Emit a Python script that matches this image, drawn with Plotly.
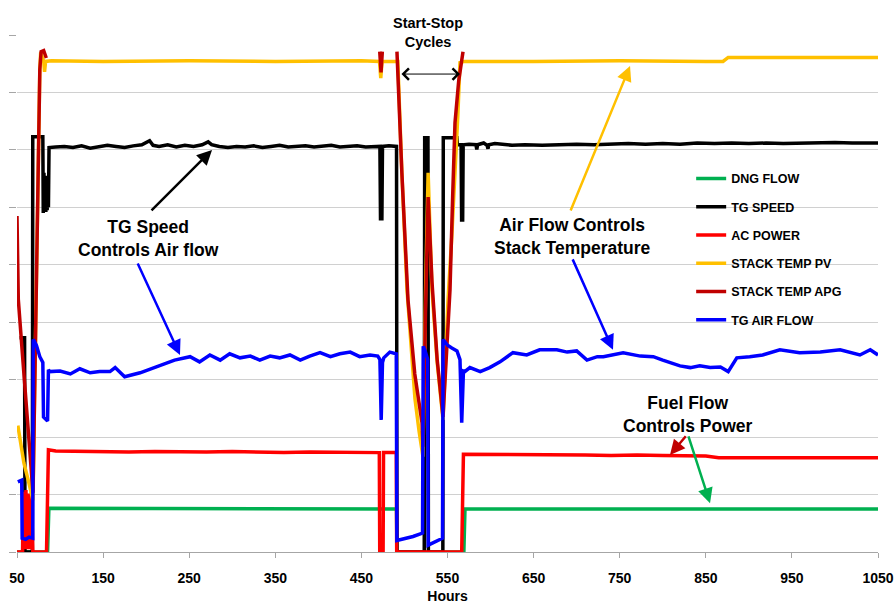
import plotly.graph_objects as go

# ---- data: (hours, value) pairs per signal ----
dng_flow = [(50, 0), (85.5, 0), (87.0, 7.6), (150, 7.6), (250, 7.5), (350, 7.5), (450, 7.5),
            (490.8, 7.5), (491.3, 0), (569.0, 0), (570.3, 7.5), (650, 7.5), (750, 7.5),
            (850, 7.5), (950, 7.5), (1050, 7.5)]

tg_speed = [(53.0, 37.3), (58.8, 37.3), (59.3, 0), (67.8, 0), (68.3, 72.3), (80.0, 72.3),
            (80.5, 59.0), (81.3, 66.0), (82.0, 59.5), (82.8, 65.5), (83.5, 59.2), (84.3, 64.0),
            (85.0, 59.5), (85.8, 62.0), (86.5, 60.0), (87.2, 70.4), (95, 70.5), (105, 70.6),
            (115, 70.4), (125, 70.7), (135, 70.3), (145, 70.5), (155, 70.8), (165, 70.6),
            (175, 70.4), (185, 70.7), (195, 70.9), (204, 71.6), (208, 70.8), (215, 70.6),
            (225, 70.9), (235, 70.5), (245, 70.8), (255, 70.6), (265, 70.9), (272, 71.4),
            (276, 70.9), (285, 70.6), (295, 70.4), (305, 70.6), (315, 70.5), (325, 70.7),
            (335, 70.4), (345, 70.6), (355, 70.8), (365, 70.5), (375, 70.6), (385, 70.7),
            (395, 70.5), (405, 70.6), (415, 70.8), (425, 70.5), (435, 70.6), (445, 70.7),
            (455, 70.5), (465, 70.6), (471.5, 70.6), (472.2, 58.0), (473.8, 58.0), (474.5, 70.6),
            (482, 70.7), (490.8, 70.6), (491.3, 0), (523.0, 0), (523.5, 72.1), (527.3, 72.1),
            (527.8, 0), (544.6, 0), (545.1, 72.1), (561.0, 72.1), (561.5, 70.9), (565.8, 70.9),
            (566.4, 57.8), (567.6, 57.8), (568.2, 70.9), (575, 71.0), (583, 70.9), (584, 70.1),
            (585, 70.9), (592, 71.2), (596, 70.8), (597, 70.2), (598, 70.9), (605, 71.1),
            (615, 70.9), (625, 70.8), (640, 70.9), (660, 70.8), (680, 70.9), (700, 71.0),
            (720, 70.9), (740, 71.0), (760, 71.1), (780, 71.0), (800, 71.1), (820, 71.0),
            (840, 71.2), (860, 71.1), (880, 71.2), (900, 71.1), (920, 71.2), (940, 71.1),
            (960, 71.2), (980, 71.2), (1000, 71.3), (1020, 71.2), (1040, 71.3), (1050, 71.2)]

ac_power = [(50, 0), (56.5, 0), (57.3, 10.5), (58.0, 1.0), (58.8, 9.5), (59.6, 0.5), (60.4, 10.8),
            (61.2, 1.5), (62.0, 9.0), (62.8, 0.5), (63.6, 10.2), (64.4, 2.0), (65.2, 9.8),
            (66.0, 0.5), (66.8, 10.5), (67.6, 1.0), (68.4, 0), (84.3, 0), (86.5, 17.8),
            (95, 17.6), (120, 17.5), (150, 17.5), (180, 17.4), (210, 17.5), (240, 17.4),
            (270, 17.4), (300, 17.5), (330, 17.4), (360, 17.3), (390, 17.4), (420, 17.4),
            (450, 17.3), (470.8, 17.3), (471.3, 0), (475.2, 0), (475.7, 17.3), (490.5, 17.3),
            (491.0, 0), (566.5, 0), (568.5, 17.0), (590, 17.0), (620, 16.9), (650, 16.9),
            (680, 17.0), (710, 16.9), (740, 16.8), (770, 16.9), (800, 16.8), (830, 16.8),
            (850, 16.7), (865, 16.4), (880, 16.4), (910, 16.5), (940, 16.4), (970, 16.4),
            (1000, 16.5), (1030, 16.4), (1050, 16.4)]

stack_temp_pv = [(51.0, 22.0), (53.5, 19.5), (58, 15.5), (63, 12.5), (68.6, 9.0), (70.5, 28),
                 (72.5, 48), (74.5, 68), (76.5, 84), (77.5, 87.0), (79.0, 86.2), (81.0, 85.4),
                 (82.0, 83.6), (83.2, 85.4), (90, 85.5), (150, 85.4), (250, 85.5), (350, 85.4),
                 (450, 85.5), (471.0, 85.4), (472.5, 82.5), (474.0, 85.4), (492.3, 85.4),
                 (497, 66), (503, 45.6), (508, 35), (512.2, 26.7), (517, 21), (521.5, 16.6),
                 (524.5, 45), (527.5, 66.0), (532, 45.6), (538, 33), (544.8, 23.0), (550.6, 43.9),
                 (555, 55), (558.7, 64.8), (562, 76), (564.5, 85.2), (570, 85.4), (650, 85.4),
                 (750, 85.5), (850, 85.4), (870, 85.4), (876, 86.1), (950, 86.1), (1050, 86.1)]

stack_temp_apg = [(50.0, 58.5), (50.6, 47), (51.5, 44), (56, 35), (61, 25), (65, 17), (68.6, 10.3),
                  (70.5, 28), (72.5, 50), (74.5, 70), (76.5, 84), (78.0, 87.1), (81.0, 87.3),
                  (84.0, 86.0), (84.5, None), (471.3, 87.1), (472.8, 83.5), (474.3, 87.1),
                  (474.8, None), (491.3, 87.1), (497, 66), (504.1, 43.9), (512, 31), (520.4, 22.5),
                  (521.5, 18.3), (524.5, 42), (527.5, 61.8), (532, 47), (538, 33.5), (544.8, 23.5),
                  (552.9, 45.6), (556, 62), (558.7, 74.7), (563, 82), (568, 87.1), (568.5, None)]

tg_air_flow = [(51.0, 12.2), (55.5, 12.5), (56.0, 2.4), (60, 2.2), (64, 2.6), (68.3, 2.4),
               (68.8, 37.0), (72.5, 36.0), (76.5, 34.0), (80.0, 33.0), (80.8, 23.5), (85.5, 22.8),
               (86.5, 31.7), (88, 31.4), (100, 31.5), (112, 31.0), (123, 31.9), (135, 31.2),
               (146, 31.4), (158, 31.4), (164, 32.1), (175, 30.5), (193, 31.2), (216, 32.4),
               (233, 33.4), (251, 34.0), (262, 33.1), (274, 34.3), (286, 33.4), (297, 34.5),
               (309, 33.8), (321, 34.1), (332, 33.4), (344, 34.1), (355, 33.8), (367, 34.3),
               (379, 33.4), (390, 34.1), (402, 34.7), (414, 34.0), (425, 34.5), (437, 34.8),
               (448, 34.0), (460, 34.3), (469, 34.1), (471.5, 33.5), (473, 23.0), (474.5, 33.0),
               (476, 33.8), (483, 34.8), (488, 34.5), (490.5, 34.5), (491.2, 2.0), (500, 2.3),
               (510, 2.7), (521.0, 3.3), (521.8, 35.8), (524, 35.0), (527, 33.5), (527.6, 1.2),
               (535, 1.8), (544.2, 2.4), (544.9, 37.0), (550, 36.0), (555, 35.5), (561, 35.0),
               (564.5, 33.5), (566.5, 22.5), (568.5, 31.5), (570, 31.4), (576, 32.1), (582, 31.7),
               (588, 31.4), (599, 32.1), (611, 33.1), (626, 34.7), (642, 34.3), (657, 35.2),
               (677, 35.2), (689, 34.8), (700, 35.0), (712, 33.4), (724, 34.0), (731, 34.0),
               (742, 34.3), (754, 34.7), (774, 34.1), (789, 34.0), (800, 33.4), (820, 32.4),
               (832, 32.1), (843, 32.4), (855, 32.1), (867, 32.2), (876, 31.4), (886, 33.8),
               (901, 34.0), (916, 34.3), (936, 35.2), (959, 34.7), (983, 34.8), (1006, 35.2),
               (1029, 34.3), (1041, 35.2), (1050, 34.3)]

x_ticks = [50, 150, 250, 350, 450, 550, 650, 750, 850, 950, 1050]

series = [
    ("DNG FLOW", dng_flow, "#00B050"),
    ("TG SPEED", tg_speed, "#000000"),
    ("AC POWER", ac_power, "#FF0000"),
    ("STACK TEMP PV", stack_temp_pv, "#FFC000"),
    ("STACK TEMP APG", stack_temp_apg, "#C00000"),
    ("TG AIR FLOW", tg_air_flow, "#0000FF"),
]

fig = go.Figure()
for name, pts, color in series:
    fig.add_trace(go.Scatter(
        x=[p[0] for p in pts], y=[p[1] for p in pts], name=name, mode="lines",
        line=dict(color=color, width=3.5), connectgaps=False, legendgroup=name,
    ))

FONT = "Arial, Liberation Sans, sans-serif"

# callout texts (data coordinates)
notes = [
    ("<b>TG Speed<br>Controls Air flow</b>", 203.3, 54.6),
    ("<b>Air Flow Controls<br>Stack Temperature</b>", 694.6, 55.0),
    ("<b>Fuel Flow<br>Controls Power</b>", 829.3, 24.0),
]
for txt, hx, vy in notes:
    fig.add_annotation(x=hx, y=vy, xref="x", yref="y", text=txt, showarrow=False,
                       font=dict(family=FONT, size=17.5, color="#000000"), align="center")

# heading over the start-stop span sits above the plot area
fig.add_annotation(x=527.4, y=1.004, xref="x", yref="paper", yanchor="middle",
                   text="<b>Start-Stop<br>Cycles</b>", showarrow=False,
                   font=dict(family=FONT, size=14.5, color="#000000"), align="center")

# callout arrows: (tail_h, tail_v, head_h, head_v, colour)
arrows = [
    (204.5, 59.2, 276.5, 70.0, "#000000"),
    (189.4, 50.5, 239.3, 34.3, "#0000FF"),
    (692.3, 59.2, 762.0, 84.6, "#FFC000"),
    (694.6, 51.2, 742.2, 35.2, "#0000FF"),
    (828.2, 20.4, 808.4, 16.9, "#C00000"),
    (829.3, 20.4, 854.9, 8.5, "#00B050"),
]
for tx, ty, hx, hy, col in arrows:
    fig.add_annotation(x=hx, y=hy, ax=tx, ay=ty, xref="x", yref="y", axref="x", ayref="y",
                       text="", showarrow=True, arrowhead=2, arrowsize=1.2, arrowwidth=2.5,
                       arrowcolor=col, standoff=0, startstandoff=0)

# start-stop span marker
fig.add_annotation(x=564.5, y=83.2, ax=494.8, ay=83.2, xref="x", yref="y", axref="x", ayref="y",
                   text="", showarrow=True, arrowhead=4, arrowside="end+start", arrowsize=2.2,
                   arrowwidth=1, arrowcolor="#000000", standoff=0, startstandoff=0)

fig.update_layout(
    width=895, height=604,
    margin=dict(l=17, r=17, t=35, b=52),
    plot_bgcolor="white", paper_bgcolor="white",
    font=dict(family=FONT, color="#000000"),
    showlegend=True,
    legend=dict(x=0.783, y=0.7505, xanchor="left", yanchor="top",
                bgcolor="rgba(0,0,0,0)",
                font=dict(family=FONT, size=12.5, color="#000000", weight="bold"),
                traceorder="grouped", tracegroupgap=9, itemwidth=30),
    xaxis=dict(range=[50, 1050], tickvals=x_ticks, ticks="outside", ticklen=5,
               tickcolor="#A6A6A6", showline=True, linecolor="#A6A6A6", linewidth=1,
               showgrid=False, zeroline=False, ticklabelstandoff=8, automargin=False,
               tickfont=dict(family=FONT, size=14, color="#000000", weight="bold"),
               title=dict(text="Hours", standoff=6,
                          font=dict(family=FONT, size=14, color="#000000", weight="bold"))),
    yaxis=dict(range=[0, 90], tickvals=[0, 10, 20, 30, 40, 50, 60, 70, 80], ticks="outside",
               ticklen=7, tickcolor="#A6A6A6", showticklabels=False, showline=False,
               showgrid=True, gridcolor="#D0D0D0", gridwidth=1, zeroline=False, automargin=False,
               minor=dict(tickvals=[90], ticks="outside", ticklen=7, tickcolor="#A6A6A6",
                          showgrid=False)),
)

fig.write_html("out.html")
